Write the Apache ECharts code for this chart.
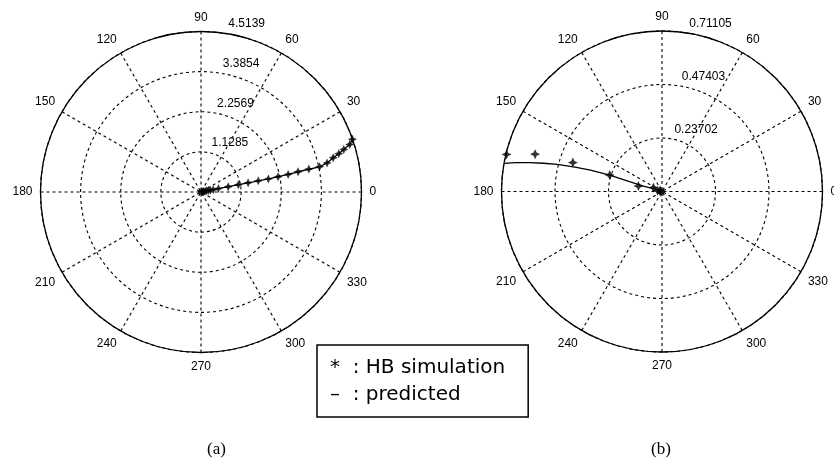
<!DOCTYPE html>
<html>
<head>
<meta charset="utf-8">
<script src="https://cdn.jsdelivr.net/npm/echarts@6/dist/echarts.min.js"></script>
<style>
html,body{margin:0;padding:0;background:#fff;}
#chart{width:834px;height:466px;}
</style>
</head>
<body>
<div id="chart"></div>
<script>
// ---- data ----
const angleLabels = ['0','30','60','90','120','150','180','210','240','270','300','330'];
const leftRingLabels = ['1.1285','2.2569','3.3854','4.5139'];
const rightRingLabels = ['0.23702','0.47403','0.71105'];
const leftMax = 4.5139;
const rightMax = 0.71105;

// (a) HB simulation stars: radius & angle (deg)
const leftStarR = [0.02,0.05,0.08,0.12,0.16,0.21,0.27,0.35,0.5,0.78,1.07,1.35,1.64,1.93,2.21,2.5,2.79,3.1,3.41,3.64,3.84,4.02,4.19,4.39,4.51];
const leftStarA = [13,12,12,11.5,11.5,11.5,11,11,11,11,11,11,11,11,11.2,11.4,11.8,12,12,13,14.5,15.5,16.6,17.7,19.2];
// (a) predicted line
const leftLineR = [0,0.5,1,1.5,2,2.5,3,3.41,3.64,3.84,4.02,4.19,4.39,4.51];
const leftLineA = [11,11,11,11,11.1,11.4,11.9,12,13,14.5,15.5,16.6,17.7,19.2];

// (b) HB simulation stars
const rightStarR = [0.708,0.586,0.415,0.243,0.107,0.042,0.02,0.01,0.005];
const rightStarA = [166.6,163.6,162,162.6,167,156,170,150,200];
// (b) predicted line
const rightLineR = [0.711,0.66,0.60,0.54,0.479,0.40,0.331,0.243,0.147,0.086,0.027,0];
const rightLineA = [169.9,168.8,167.7,166.6,165.5,164.3,163.4,162.6,163,163.6,160,160];

const seriesNames = ['HB simulation','predicted'];

// ---- helpers ----
const zip = (r, a) => r.map((v, i) => [v, a[i]]);
const starPath = 'path://M0,-10 L3.2,-3.2 L10,0 L3.2,3.2 L0,10 L-3.2,3.2 L-10,0 L-3.2,-3.2 Z';
const dashed = {color:'#000', type:[3,3], width:1.1};

const leftCenter = [201, 192];
const rightCenter = [662, 191.5];
const R = 160.5;

function mainAngleAxis(polarIndex){
  return {
    polarIndex, type:'value', min:0, max:360, interval:30, startAngle:0, clockwise:false,
    axisLine:{show:true, lineStyle:{color:'#000', width:1.3}},
    axisTick:{show:false},
    axisLabel:{show:true, margin:8, color:'#000', fontSize:12, fontFamily:'Liberation Sans',
      formatter:(v)=>angleLabels[Math.round(v/30)] ?? ''},
    splitLine:{show:true, lineStyle:dashed}
  };
}
function mainRadiusAxis(polarIndex, max, n){
  return {
    polarIndex, type:'value', min:0, max:max, interval:max/n,
    axisLine:{show:false}, axisTick:{show:false}, axisLabel:{show:false},
    splitLine:{show:true, lineStyle:dashed}
  };
}
function labelAngleAxis(polarIndex){
  return {polarIndex, type:'value', min:0, max:360, startAngle:82, clockwise:false, show:false};
}
function labelRadiusAxis(polarIndex, max, labels){
  const n = labels.length;
  return {
    polarIndex, type:'value', min:0, max:max, interval:max/n,
    axisLine:{show:false}, axisTick:{show:false}, splitLine:{show:false},
    axisLabel:{show:true, showMinLabel:false, margin:-5, align:'left', verticalAlign:'bottom', rotate:0,
      padding:[0,0,4,0],
      color:'#000', fontSize:12, fontFamily:'Liberation Sans',
      formatter:(v)=>{ const k = Math.round(v/(max/n)); return k>0 ? (labels[k-1] ?? '') : ''; }}
  };
}

const chart = echarts.init(document.getElementById('chart'), null, {renderer:'canvas'});
chart.setOption({
  animation:false,
  backgroundColor:'#fff',
  title:[
    {text:'(a)', left:207, top:441, textStyle:{fontFamily:'Liberation Serif', fontSize:17, fontWeight:'normal', color:'#000'}, padding:0},
    {text:'(b)', left:651, top:441, textStyle:{fontFamily:'Liberation Serif', fontSize:17, fontWeight:'normal', color:'#000'}, padding:0}
  ],
  legend:{
    orient:'vertical', left:317, top:345,
    data:[{name:seriesNames[0], icon:'none'},{name:seriesNames[1], icon:'none'}],
    itemWidth:0, itemHeight:20, itemGap:7,
    padding:[13,23,12,8],
    borderColor:'#000', borderWidth:1.5, borderRadius:0,
    selectedMode:false,
    formatter:(name)=> (name===seriesNames[0] ? '*  : ' : '\u2013  : ') + name,
    textStyle:{fontFamily:'DejaVu Sans', fontSize:20, color:'#000'}
  },
  polar:[
    {center:leftCenter, radius:R},
    {center:leftCenter, radius:R},
    {center:rightCenter, radius:R},
    {center:rightCenter, radius:R}
  ],
  angleAxis:[mainAngleAxis(0), labelAngleAxis(1), mainAngleAxis(2), labelAngleAxis(3)],
  radiusAxis:[
    mainRadiusAxis(0, leftMax, 4),
    labelRadiusAxis(1, leftMax, leftRingLabels),
    mainRadiusAxis(2, rightMax, 3),
    labelRadiusAxis(3, rightMax, rightRingLabels)
  ],
  series:[
    {name:seriesNames[1], type:'line', coordinateSystem:'polar', polarIndex:0, data:zip(leftLineR,leftLineA),
      showSymbol:false, lineStyle:{color:'#000', width:1.3}, itemStyle:{color:'#000'}, z:3},
    {name:seriesNames[0], type:'scatter', coordinateSystem:'polar', polarIndex:0, data:zip(leftStarR,leftStarA),
      symbol:starPath, symbolSize:9, itemStyle:{color:'#000'}, z:4},
    {name:seriesNames[1], type:'line', coordinateSystem:'polar', polarIndex:2, data:zip(rightLineR,rightLineA),
      showSymbol:false, lineStyle:{color:'#000', width:1.3}, itemStyle:{color:'#000'}, z:3},
    {name:seriesNames[0], type:'scatter', coordinateSystem:'polar', polarIndex:2, data:zip(rightStarR,rightStarA),
      symbol:starPath, symbolSize:10, itemStyle:{color:'#000'}, z:4}
  ]
});
</script>
</body>
</html>
